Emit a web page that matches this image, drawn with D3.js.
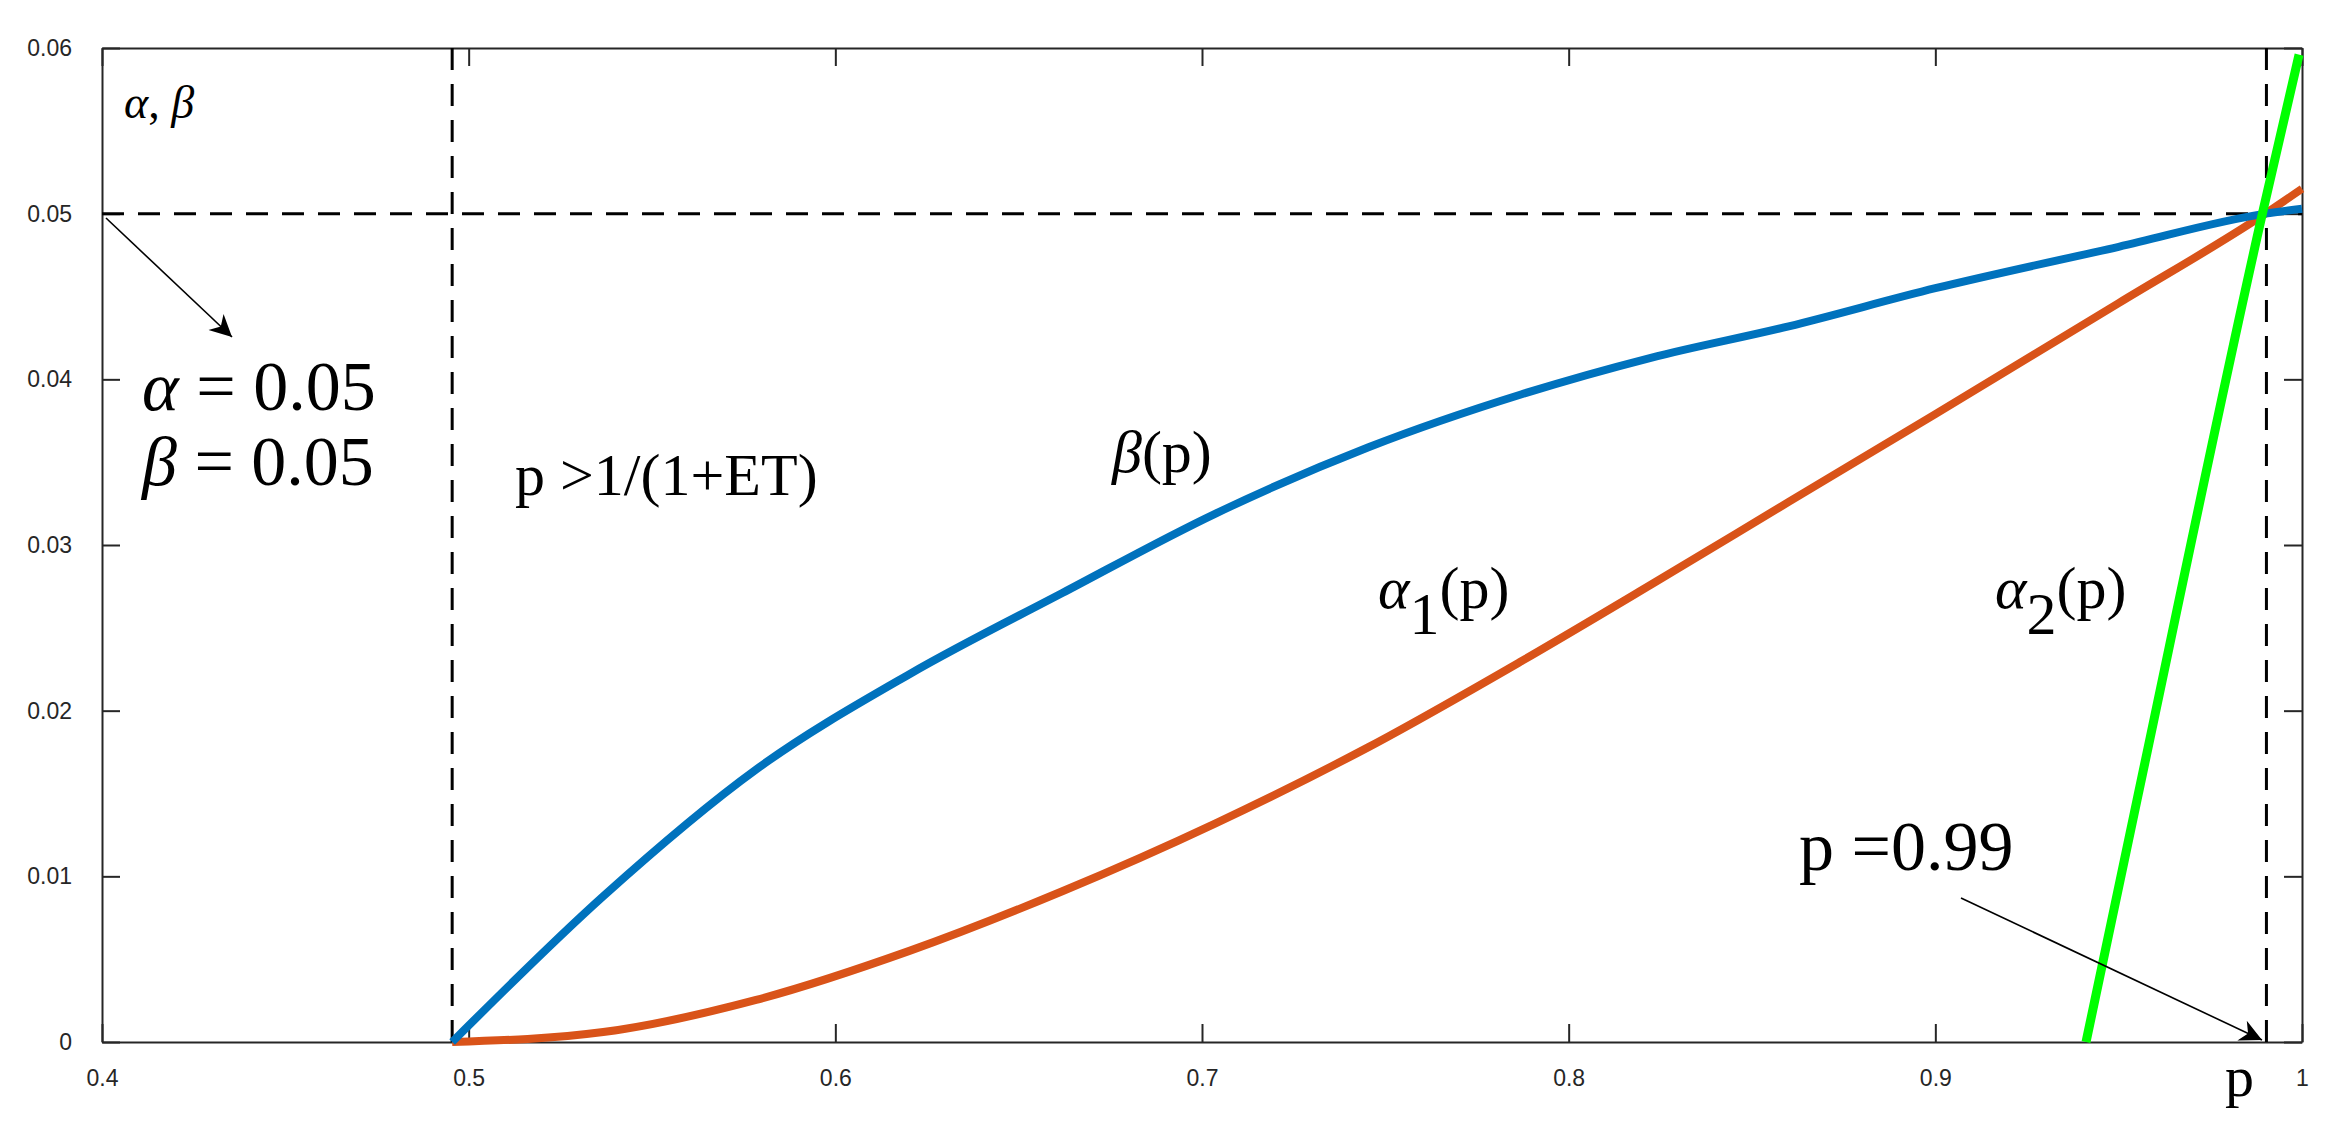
<!DOCTYPE html>
<html>
<head>
<meta charset="utf-8">
<script src="https://cdn.jsdelivr.net/npm/d3@7"></script>
<style>
  body { margin: 0; background: #fff; }
  svg { display: block; }
  .tick text { font-family: "Liberation Sans", Arial, sans-serif; fill: #262626; }
  .lbl { font-family: "Liberation Serif", "Times New Roman", serif; fill: #000; }
</style>
</head>
<body>
<svg id="chart" width="2343" height="1125"></svg>
<script>
// values
const xTicks = [0.4, 0.5, 0.6, 0.7, 0.8, 0.9, 1.0];
const yTicks = [0, 0.01, 0.02, 0.03, 0.04, 0.05, 0.06];

const betaP   = [0.4955, 0.5367, 0.5784, 0.6202, 0.6619, 0.7037, 0.7454, 0.7872, 0.8224, 0.86, 0.90, 0.95, 0.99, 1.0];
const betaV   = [0, 0.0088, 0.01645, 0.0222, 0.0271, 0.0319, 0.0359, 0.0391, 0.0413, 0.0432, 0.0455, 0.0480, 0.0500, 0.0503];

const alpha1P = [0.4955, 0.5367, 0.5784, 0.6202, 0.6619, 0.7037, 0.7454, 0.7872, 0.8224, 0.86, 0.90, 0.95, 0.99, 1.0];
const alpha1V = [0, 0.0006, 0.00254, 0.0055, 0.0091, 0.0132, 0.0178, 0.0230, 0.0276, 0.0326, 0.0379, 0.0446, 0.0500, 0.0515];

const alpha2P = [0.9411, 0.955, 0.9894, 0.9992];
const alpha2V = [0, 0.0146, 0.0502, 0.0596];

const pLow = 0.4955, pHigh = 0.9903, level = 0.05;

const svg = d3.select("#chart");
const x = d3.scaleLinear().domain([0.4, 1.0]).range([102, 2302]);
const y = d3.scaleLinear().domain([0, 0.06]).range([1042, 48]);

const fmt = d => d === 1 ? "1" : d === 0 ? "0" : String(d);

// axes with inward ticks
const gx = svg.append("g").attr("transform", "translate(0,1042)")
  .call(d3.axisBottom(x).tickValues(xTicks).tickFormat(fmt).tickSizeInner(-18).tickSizeOuter(0).tickPadding(28));
const gy = svg.append("g").attr("transform", "translate(102,0)")
  .call(d3.axisLeft(y).tickValues(yTicks).tickFormat(fmt).tickSizeInner(-18).tickSizeOuter(0).tickPadding(30));
svg.append("g").attr("transform", "translate(0,48)")
  .call(d3.axisTop(x).tickValues(xTicks).tickFormat("").tickSizeInner(-18).tickSizeOuter(0));
svg.append("g").attr("transform", "translate(2302,0)")
  .call(d3.axisRight(y).tickValues(yTicks).tickFormat("").tickSizeInner(-18).tickSizeOuter(0));
svg.selectAll(".domain, .tick line").attr("stroke", "#262626").attr("stroke-width", 2);
svg.selectAll(".tick text").attr("font-size", 23);

// dashed guides
const dash = { "stroke": "#000", "stroke-width": 3, "stroke-dasharray": "22,14", "fill": "none" };
function guide(x1, y1, x2, y2) {
  const l = svg.append("line").attr("x1", x1).attr("y1", y1).attr("x2", x2).attr("y2", y2);
  Object.entries(dash).forEach(([k, v]) => l.attr(k, v));
}
guide(x(0.4), y(level), x(1.0), y(level));
guide(x(pLow), y(0.06), x(pLow), y(0));
guide(x(pHigh), y(0.06), x(pHigh), y(0));

// curves
const line = d3.line().x(d => x(d[0])).y(d => y(d[1])).curve(d3.curveMonotoneX);
const curves = [
  [d3.zip(alpha1P, alpha1V), "#D95319", 8],
  [d3.zip(betaP, betaV), "#0072BD", 8],
  [d3.zip(alpha2P, alpha2V), "#00FF00", 9]
];
curves.forEach(([pts, col, w]) => {
  svg.append("path").datum(pts).attr("d", line)
    .attr("fill", "none").attr("stroke", col).attr("stroke-width", w);
});

// arrows
svg.append("defs").append("marker").attr("id", "ah")
  .attr("viewBox", "0 0 10 10").attr("refX", 10).attr("refY", 5)
  .attr("markerWidth", 14).attr("markerHeight", 10).attr("markerUnits", "userSpaceOnUse")
  .attr("orient", "auto")
  .append("path").attr("d", "M0,0 L10,5 L0,10 L3,5 Z").attr("fill", "#000");
// width of arrow head scaled separately
svg.select("#ah").attr("markerWidth", 30).attr("markerHeight", 22);
function arrow(x1, y1, x2, y2) {
  svg.append("line").attr("x1", x1).attr("y1", y1).attr("x2", x2).attr("y2", y2)
    .attr("stroke", "#000").attr("stroke-width", 1.6).attr("marker-end", "url(#ah)");
}
arrow(106, 218, 232, 337);
arrow(1961, 898, 2262, 1040);

// labels
function txt(xp, yp, size, parts, italicFirst) {
  const t = svg.append("text").attr("class", "lbl").attr("x", xp).attr("y", yp).attr("font-size", size);
  parts.forEach(p => {
    const s = t.append("tspan").text(p.t);
    if (p.i) s.attr("font-style", "italic");
    if (p.dy) s.attr("dy", p.dy);
    if (p.fs) s.attr("font-size", p.fs);
  });
  return t;
}
txt(124, 118, 46, [{ t: "α", i: 1 }, { t: ", " }, { t: "β", i: 1 }]);
txt(142, 410, 70, [{ t: "α", i: 1 }, { t: " = 0.05" }]);
txt(142, 485, 70, [{ t: "β", i: 1 }, { t: " = 0.05" }]);
txt(515, 495, 60, [{ t: "p >1/(1+ET)" }]);
txt(1112, 472, 60, [{ t: "β", i: 1 }, { t: "(p)" }]);
txt(1378, 608, 60, [{ t: "α", i: 1 }, { t: "1", dy: 26 }, { t: "(p)", dy: -26 }]);
txt(1995, 608, 60, [{ t: "α", i: 1 }, { t: "2", dy: 26 }, { t: "(p)", dy: -26 }]);
txt(1799, 870, 70, [{ t: "p =0.99" }]);
txt(2225, 1096, 58, [{ t: "p" }]);
</script>
</body>
</html>
